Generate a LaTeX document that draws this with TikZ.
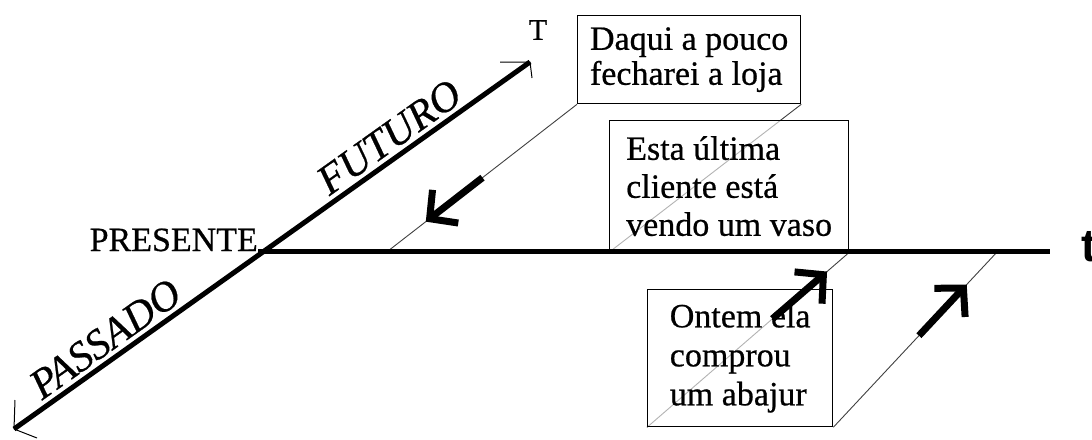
\documentclass[tikz,border=0pt]{standalone}
\usepackage{fontspec}
\setmainfont{Liberation Serif}[UprightFeatures={FakeBold=0.6}, ItalicFeatures={FakeBold=0.6}]
\newfontfamily\axisfont{Liberation Sans}
\usetikzlibrary{arrows.meta,calc,backgrounds}
\begin{document}
\begin{tikzpicture}[x=1pt, y=-1pt,
		axis/.style={line width=5pt},
		guide/.style={line width=0.9pt, black!75},
		barb/.style={line width=1pt},
		bigarrow/.style={line width=7pt, -{Straight Barb[length=20pt, width=42pt]}},
		textbox/.style={draw, line width=1.3pt, fill=white, fill opacity=0.6, text opacity=1,
			align=left, inner sep=0pt, anchor=north west, font=\fontsize{34}{38}\selectfont},
		lbl/.style={inner sep=0pt, font=\fontsize{34}{38}\selectfont},
		era/.style={sloped, above=4pt, inner sep=0pt, font=\itshape\fontsize{42}{42}\selectfont}]
	\useasboundingbox (0,0) rectangle (1092,439);
	% the three remarks
	\node[textbox, minimum width=223pt, minimum height=88pt, font=\fontsize{34}{35}\selectfont] (daqui) at (577,15) {Daqui a pouco\\fecharei a loja};
	\node[textbox, minimum width=239pt, minimum height=131pt] (esta) at (609,120) {Esta última\\cliente está\\vendo um vaso};
	\node[textbox, minimum width=185pt, minimum height=137pt, font=\fontsize{34}{39}\selectfont] (ontem) at (647,289) {Ontem ela\\comprou\\um abajur};
	% axes
	\coordinate (pastEnd) at (14,429);
	\coordinate (futEnd) at (530,62);
	\coordinate (tEnd) at (1050,251);
	\node[lbl, anchor=base east] (presente) at (258,251) {PRESENTE};
	\node[lbl, font=\fontsize{30}{30}\selectfont] (T) at (538,30) {T};
	\node[lbl, anchor=base west, font=\axisfont\bfseries\fontsize{46}{46}\selectfont] (t) at (1081,261) {t};
	\draw[axis] (presente.base east) -- (tEnd);
	\draw[axis] (pastEnd) -- node[era, pos=0.20] (passado) {PASSADO}
		node[era, pos=0.75] (futuro) {FUTURO} (futEnd);
	\draw[barb] (futEnd) -- ++(-30,0) (futEnd) -- ++(2,16);
	\draw[barb] (pastEnd) -- ++(1,-29) (pastEnd) -- ++(23,9);
	% projections onto the line
	\coordinate (g1) at (388,251);
	\coordinate (g4) at (998,251);
	\begin{scope}[on background layer]
		\draw[guide] (daqui.south west) -- (g1);
		\draw[guide] (daqui.south east) -- (esta.south west);
		\draw[guide] (esta.south east) -- (ontem.south west);
		\draw[guide] (ontem.south east) -- (g4);
	\end{scope}
	\draw[bigarrow] ($(daqui.south west)!0.50!(g1)$) -- ($(daqui.south west)!0.80!(g1)$);
	\draw[bigarrow] ($(esta.south east)!0.38!(ontem.south west)$) -- ($(esta.south east)!0.11!(ontem.south west)$);
	\draw[bigarrow] ($(ontem.south east)!0.52!(g4)$) -- ($(ontem.south east)!0.81!(g4)$);
\end{tikzpicture}
\end{document}
